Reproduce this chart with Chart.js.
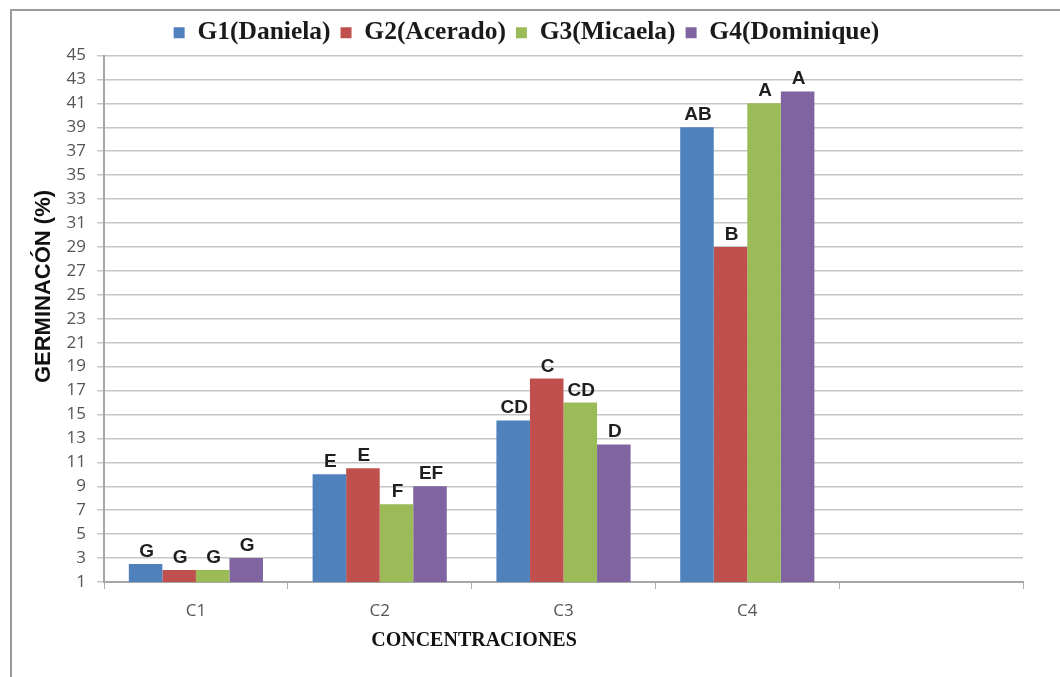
<!DOCTYPE html>
<html>
<head>
<meta charset="utf-8">
<script src="https://cdn.jsdelivr.net/npm/chart.js@4/dist/chart.umd.min.js"></script>
<style>
  body { margin: 0; background: #fff; }
  #wrap { position: relative; width: 1060px; height: 677px; }
  #frame { position: absolute; left: 10px; top: 9px; right: 0; bottom: 0; border-left: 2px solid #9a9a9a; border-top: 2px solid #9a9a9a; pointer-events: none; }
</style>
</head>
<body>
<div id="wrap">
  <canvas id="germChart" width="1060" height="677"></canvas>
  <div id="frame"></div>
</div>
<script>
const categories = ['C1', 'C2', 'C3', 'C4', '']
const seriesNames = ['G1(Daniela)', 'G2(Acerado)', 'G3(Micaela)', 'G4(Dominique)']
const g1 = [2.5, 10, 14.5, 39, null]
const g2 = [2, 10.5, 18, 29, null]
const g3 = [2, 7.5, 16, 41, null]
const g4 = [3, 9, 12.5, 42, null]
const g1Letters = ['G', 'E', 'CD', 'AB']
const g2Letters = ['G', 'E', 'C', 'B']
const g3Letters = ['G', 'F', 'CD', 'A']
const g4Letters = ['G', 'EF', 'D', 'A']
const colors = ['#4F81BD', '#C0504D', '#9BBB59', '#8064A2']

const values = [g1, g2, g3, g4]
const letters = [g1Letters, g2Letters, g3Letters, g4Letters]

// letters over the bars + the two axis titles
const extras = {
    id: 'extras',
    afterDatasetsDraw(chart) {
        const ctx = chart.ctx
        ctx.save()
        ctx.fillStyle = '#1f1f1f'
        ctx.font = 'bold 19px "Liberation Sans"'
        ctx.textAlign = 'center'
        ctx.textBaseline = 'alphabetic'
        chart.data.datasets.forEach((ds, i) => {
            chart.getDatasetMeta(i).data.forEach((bar, j) => {
                const txt = letters[i][j]
                if (!txt) return
                ctx.fillText(txt, bar.x + 1, bar.y - 7)
            })
        })
        const area = chart.chartArea
        ctx.fillStyle = '#111'
        ctx.font = 'bold 20px "Liberation Serif"'
        ctx.textBaseline = 'middle'
        ctx.fillText('CONCENTRACIONES', area.left + 370, area.bottom + 59)
        ctx.translate(area.left - 60, area.top + 231)
        ctx.rotate(-Math.PI / 2)
        ctx.font = 'bold 22px "Liberation Sans"'
        ctx.fillText('GERMINACÓN (%)', 0, 0)
        ctx.restore()
    }
}

const germChart = new Chart(document.getElementById('germChart'), {
    type: 'bar',
    data: {
        labels: categories,
        datasets: seriesNames.map((name, i) => ({
            label: name,
            data: values[i],
            backgroundColor: colors[i],
            borderWidth: 0,
            categoryPercentage: 0.73,
            barPercentage: 1,
        }))
    },
    options: {
        responsive: false,
        devicePixelRatio: 1,
        animation: false,
        layout: { padding: { left: 30, right: 37, top: 10, bottom: 0 } },
        plugins: {
            tooltip: { enabled: false },
            legend: {
                position: 'top',
                labels: {
                    color: '#1a1a1a',
                    font: { family: '"Liberation Serif"', size: 25.5, weight: 'bold' },
                    boxWidth: 11,
                    boxHeight: 11,
                    padding: 10,
                }
            }
        },
        scales: {
            x: {
                offset: true,
                grid: { offset: true, drawOnChartArea: false, color: '#b0b0b0', tickLength: 7 },
                border: { color: '#a6a6a6', width: 2 },
                ticks: { color: '#555', font: { family: '"Open Sans"', size: 17 }, padding: 12 },
                afterFit(scale) { scale.height = 95 }
            },
            y: {
                min: 1,
                max: 45,
                ticks: { stepSize: 2, color: '#555', font: { family: '"Open Sans"', size: 17 }, padding: 11 },
                grid: { color: '#c6c6c6', lineWidth: 1.5, tickLength: 7 },
                border: { color: '#a6a6a6', width: 2 },
                afterFit(scale) { scale.width = 74 }
            }
        }
    },
    plugins: [extras]
})
</script>
</body>
</html>
